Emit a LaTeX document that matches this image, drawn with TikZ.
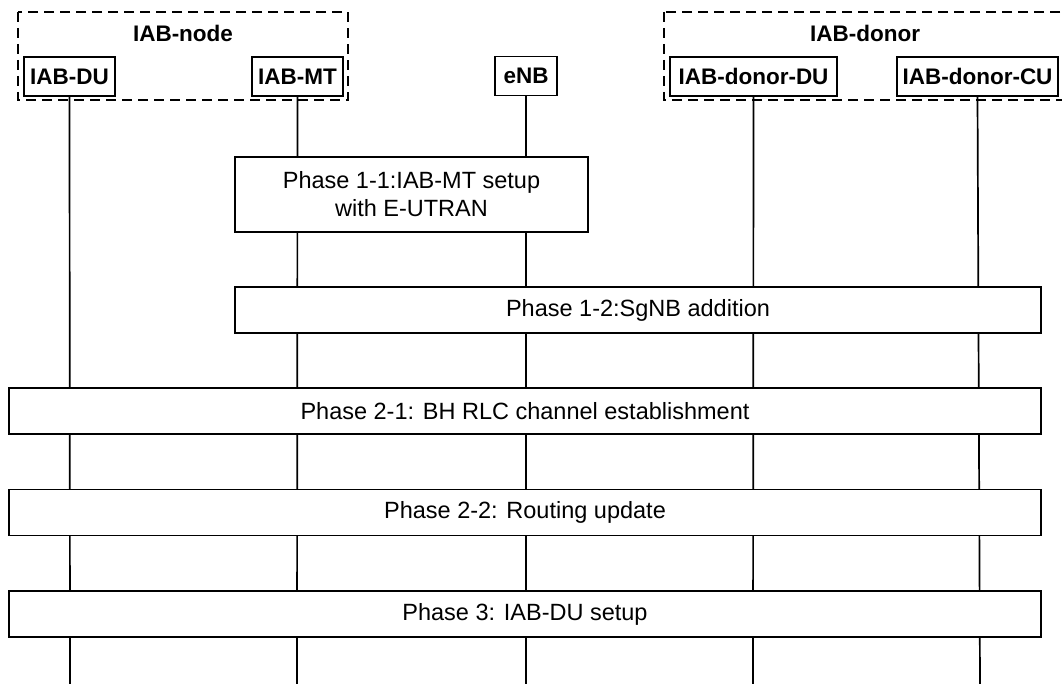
\documentclass[tikz,border=0pt]{standalone}
\usepackage{fontspec}
\setmainfont{Liberation Sans}
\begin{document}
\begin{tikzpicture}[x=1pt,y=-1pt,
  grp/.style={draw,line width=1.7pt,dash pattern=on 10pt off 6pt},
  head/.style={draw,line width=1.7pt,inner sep=0pt,minimum height=39pt,font=\fontsize{22.5}{26}\selectfont\bfseries},
  grplabel/.style={inner sep=0pt,font=\fontsize{22.5}{26}\selectfont\bfseries},
  phase/.style={draw,fill=white,line width=1.7pt,inner sep=0pt,align=center,font=\fontsize{23.5}{28}\selectfont},
  life/.style={line width=1.7pt}]
\useasboundingbox (0,0) rectangle (1062,684);
\fill[white] (0,0) rectangle (1062,684);
% group boxes
\draw[grp] (18,12) rectangle (348,100);
\draw[grp] (664,12) rectangle (1070,100);
\node[grplabel] (gnode) at (183,33) {IAB-node};
\node[grplabel] (gdonor) at (865,33) {IAB-donor};
% heads
\node[head,minimum width=91pt] (du) at (69.5,76.5) {IAB-DU};
\node[head,minimum width=91pt] (mt) at (297.5,76.5) {IAB-MT};
\node[head,minimum width=62pt] (enb) at (526,76) {eNB};
\node[head,minimum width=167pt] (ddu) at (753.5,76.5) {IAB-donor-DU};
\node[head,minimum width=161pt] (dcu) at (977.5,76.5) {IAB-donor-CU};
% lifeline ends
\coordinate (duE) at (70,684);
\coordinate (mtE) at (297,684);
\coordinate (enbE) at (526,684);
\coordinate (dduE) at (753,684);
\coordinate (dcuE) at (980,684);
\draw[life] (du.south) -- (duE);
\draw[life] (mt.south) -- (mtE);
\draw[life] (enb.south) -- (enbE);
\draw[life] (ddu.south) -- (dduE);
\draw[life] (dcu.south) -- (dcuE);
% phases
\node[phase,minimum width=353pt,minimum height=75pt] (p11) at (411.5,194.5) {Phase 1-1:IAB-MT setup\\with E-UTRAN};
\node[phase,minimum width=806pt,minimum height=46pt] (p12) at (638,310) {Phase 1-2:SgNB addition};
\node[phase,minimum width=1032pt,minimum height=46pt] (p21) at (525,411) {Phase 2-1: BH RLC channel establishment};
\node[phase,minimum width=1032pt,minimum height=46pt] (p22) at (525,512.5) {Phase 2-2: Routing update};
\node[phase,minimum width=1032pt,minimum height=46pt] (p3) at (525,614) {Phase 3: IAB-DU setup};
\end{tikzpicture}
\end{document}
